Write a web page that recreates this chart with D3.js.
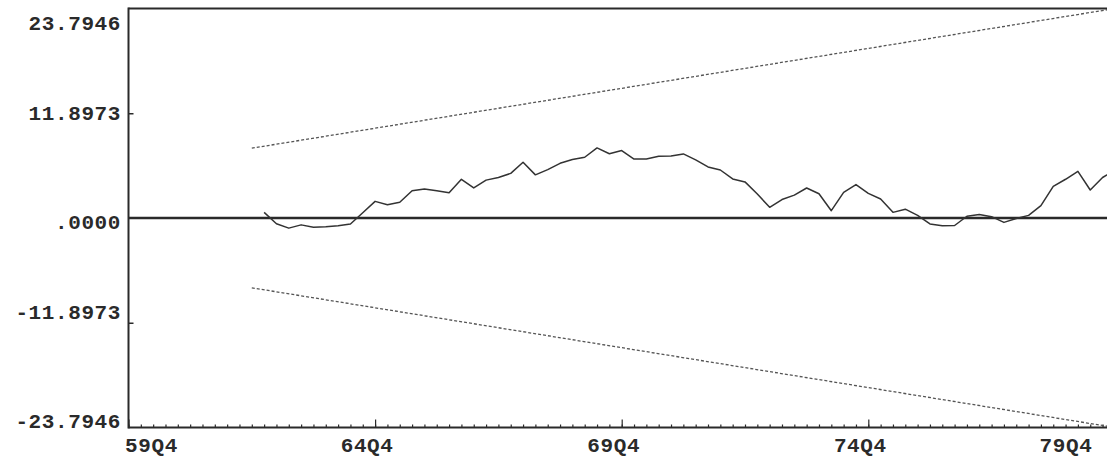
<!DOCTYPE html>
<html><head><meta charset="utf-8">
<script src="https://cdn.jsdelivr.net/npm/d3@7"></script>
<style>
html,body{margin:0;padding:0;background:#fff;}
svg{display:block;}
text{font-family:"Liberation Mono","DejaVu Sans Mono",monospace;fill:#2a2a2a;font-weight:bold;}
</style></head>
<body>
<svg id="chart" width="1107" height="463"></svg>
<script>
// ---- data ----
const axisStart = "59Q4", axisEnd = "79Q4";
const xTickLabels = ["59Q4", "64Q4", "69Q4", "74Q4", "79Q4"];
const yTickValues = [-23.7946, -11.8973, 0, 11.8973, 23.7946];
const yTickLabels = ["-23.7946", "-11.8973", ".0000", "11.8973", "23.7946"];

const cusumPeriods = [
 "62Q3","62Q4","63Q1","63Q2","63Q3","63Q4","64Q1","64Q2","64Q3","64Q4",
 "65Q1","65Q2","65Q3","65Q4","66Q1","66Q2","66Q3","66Q4","67Q1","67Q2",
 "67Q3","67Q4","68Q1","68Q2","68Q3","68Q4","69Q1","69Q2","69Q3","69Q4",
 "70Q1","70Q2","70Q3","70Q4","71Q1","71Q2","71Q3","71Q4","72Q1","72Q2",
 "72Q3","72Q4","73Q1","73Q2","73Q3","73Q4","74Q1","74Q2","74Q3","74Q4",
 "75Q1","75Q2","75Q3","75Q4","76Q1","76Q2","76Q3","76Q4","77Q1","77Q2",
 "77Q3","77Q4","78Q1","78Q2","78Q3","78Q4","79Q1","79Q2","79Q3","79Q4"];
const cusumValues = [
 0.64,-0.65,-1.15,-0.78,-1.05,-1.00,-0.88,-0.68,0.60,1.89,
 1.51,1.78,3.10,3.30,3.10,2.86,4.39,3.41,4.30,4.60,
 5.07,6.33,4.90,5.50,6.21,6.65,6.90,7.96,7.30,7.66,
 6.70,6.70,7.01,7.05,7.28,6.60,5.80,5.45,4.44,4.10,
 2.73,1.21,2.10,2.60,3.41,2.75,0.83,2.91,3.79,2.80,
 2.16,0.64,1.00,0.30,-0.68,-0.88,-0.85,0.20,0.40,0.15,
 -0.50,-0.05,0.30,1.40,3.60,4.40,5.30,3.18,4.60,5.40];

const boundPeriods = ["62Q2", "79Q4"];
const upperBound = [7.93, 23.7946];
const lowerBound = [-7.93, -23.7946];

(function(){
// ---- build quarter domain ----
function parseQ(s){ return {y:+s.slice(0,2), q:+s.slice(3)}; }
function quarterRange(a, b){
  const out = []; let {y,q} = parseQ(a); const e = parseQ(b);
  while (y < e.y || (y === e.y && q <= e.q)) {
    out.push(String(y).padStart(2,"0") + "Q" + q);
    q++; if (q > 4) { q = 1; y++; }
  }
  return out;
}
const allQuarters = quarterRange(axisStart, axisEnd);

// ---- layout ----
const W = 1107, H = 463;
const mLeft = 128.5, mRight = 1114.9, mTop = 8.5, mBottom = 427.5;
const svg = d3.select("#chart");

const x = d3.scalePoint().domain(allQuarters).range([mLeft, mRight]);
const y = d3.scaleLinear().domain([-23.7946, 23.7946]).range([mBottom, mTop]);

const ink = "#2a2a2a";

// top border
svg.append("line").attr("x1", mLeft).attr("x2", W).attr("y1", mTop).attr("y2", mTop)
  .attr("stroke", ink).attr("stroke-width", 2);

// y axis
const yAxis = d3.axisRight(y).tickValues([-11.8973, 11.8973]).tickSize(5).tickFormat("");
const yg = svg.append("g").attr("transform", `translate(${mLeft},0)`).call(yAxis);
yg.select(".domain").remove();
yg.selectAll(".tick line").attr("stroke", ink).attr("stroke-width", 1.5);
svg.append("line").attr("x1", mLeft).attr("x2", mLeft).attr("y1", mTop - 1).attr("y2", mBottom + 1)
  .attr("stroke", ink).attr("stroke-width", 2);

// y labels snapped to text rows
const rowH = 18.1, row0 = 24;
yTickValues.forEach((v, i) => {
  const ty = y(v);
  const ly = row0 + Math.max(0, Math.round((ty - row0) / rowH - 0.15)) * rowH;
  svg.append("text").attr("x", 121).attr("y", ly)
    .attr("text-anchor", "end").attr("dominant-baseline", "central")
    .attr("font-size", 21).attr("letter-spacing", 0.6)
    .text(yTickLabels[i]);
});

// x axis (minor quarterly ticks up, major ticks at labels)
const xAxisMinor = d3.axisTop(x).tickValues(allQuarters).tickSize(3).tickFormat("");
const xg = svg.append("g").attr("transform", `translate(0,${mBottom})`).call(xAxisMinor);
xg.select(".domain").remove();
xg.selectAll(".tick line").attr("stroke", ink).attr("stroke-width", 1.2);
const xAxisMajor = d3.axisTop(x).tickValues(xTickLabels).tickSize(8).tickFormat("");
const xg2 = svg.append("g").attr("transform", `translate(0,${mBottom})`).call(xAxisMajor);
xg2.select(".domain").remove();
xg2.selectAll(".tick line").attr("stroke", ink).attr("stroke-width", 1.2);
svg.append("line").attr("x1", mLeft).attr("x2", W).attr("y1", mBottom).attr("y2", mBottom)
  .attr("stroke", ink).attr("stroke-width", 2);

// x labels
xTickLabels.forEach((lab, i) => {
  const t = svg.append("text").attr("y", 446).attr("dominant-baseline", "central")
    .attr("font-size", 21).attr("letter-spacing", 0.6).text(lab);
  let cx = x(lab) - 8;
  const halfW = 27;
  if (i === 0) cx = x(lab) - 4 + halfW;
  if (cx + halfW > W - 14) cx = W - 14 - halfW;
  t.attr("x", cx).attr("text-anchor", "middle");
});

// zero line
svg.append("line").attr("x1", mLeft).attr("x2", W).attr("y1", y(0)).attr("y2", y(0))
  .attr("stroke", ink).attr("stroke-width", 2.5);

// bounds
const pathLine = d3.line().x(d => x(d[0])).y(d => y(d[1]));
[upperBound, lowerBound].forEach(b => {
  svg.append("path").datum(boundPeriods.map((p, i) => [p, b[i]]))
    .attr("d", pathLine).attr("fill", "none")
    .attr("stroke", "#555").attr("stroke-width", 1.3)
    .attr("stroke-dasharray", "3,2");
});

// cusum line
svg.append("path").datum(cusumPeriods.map((p, i) => [p, cusumValues[i]]))
  .attr("d", pathLine).attr("fill", "none")
  .attr("stroke", "#333").attr("stroke-width", 1.5).attr("stroke-linejoin", "round");
})();
</script>
</body></html>
